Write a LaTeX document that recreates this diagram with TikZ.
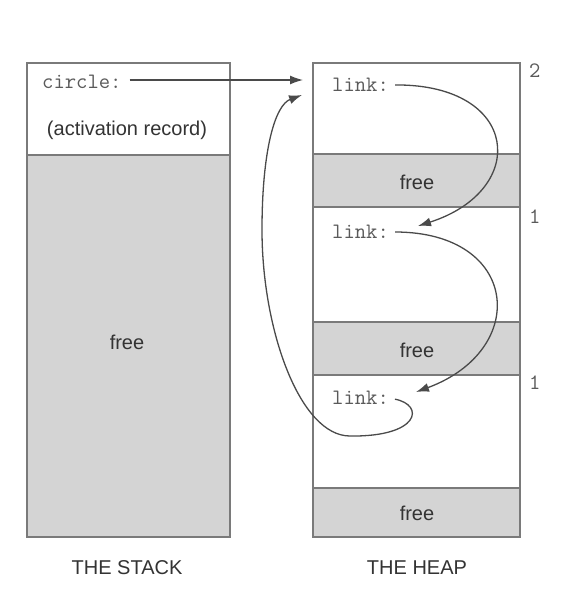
\documentclass[tikz,border=0pt]{standalone}
\usepackage{fontspec}
\setmainfont{Liberation Sans}
\usetikzlibrary{arrows.meta}
\definecolor{boxline}{HTML}{7A7A7A}
\definecolor{freegray}{HTML}{D4D4D4}
\definecolor{ptrline}{HTML}{4A4A4A}
\definecolor{txt}{HTML}{333333}
\definecolor{codetxt}{HTML}{5A5A5A}
\begin{document}
\begin{tikzpicture}[x=1pt, y=-1pt,
        box/.style={draw=boxline, line width=1.8pt},
        freebox/.style={box, fill=freegray},
        lbl/.style={text=txt, font=\fontsize{20}{24}\selectfont, inner sep=0pt},
        code/.style={text=codetxt, font=\ttfamily\fontsize{22}{26}\selectfont, inner sep=0pt, anchor=west},
        ptr/.style={draw=ptrline, line width=1.3pt, -{Latex[length=13pt,width=9pt]}}]
                \useasboundingbox (0,0) rectangle (574,600);
                \fill[white] (0,0) rectangle (574,600);
                \draw[freebox] (27,155) rectangle (230,537);
                \draw[box] (27,63) rectangle (230,155);
                \draw[box] (313,63) rectangle (520,537);
                \draw[freebox] (313,154) rectangle (520,207);
                \draw[freebox] (313,322) rectangle (520,375);
                \draw[freebox] (313,488) rectangle (520,537);
                \node[code] (circlelbl) at (42,82) {circle:};
                \node[lbl] (actrec) at (127,130) {(activation record)};
                \node[lbl] (stackfree) at (127,342) {free};
                \node[lbl] (stackname) at (127,568) {THE STACK};
                \node[lbl] (heapfreea) at (417,182) {free};
                \node[lbl] (heapfreeb) at (417,350) {free};
                \node[lbl] (heapfreec) at (417,513) {free};
                \node[lbl] (heapname) at (417,568) {THE HEAP};
                \node[code] (linka) at (332,85) {link:};
                \node[code] (linkb) at (332,232) {link:};
                \node[code] (linkc) at (332,398) {link:};
                \node[code] (counta) at (529,71) {2};
                \node[code] (countb) at (529,217) {1};
                \node[code] (countc) at (529,383) {1};
                \coordinate (tipa) at (303,80);
                \coordinate (tipb) at (302,95);
                \coordinate (tipc) at (418,226);
                \coordinate (tipd) at (416,392);
                \draw[ptr] ([xshift=8pt]circlelbl.east |- tipa) -- (tipa);
                \draw[ptr, shorten <=6pt] (linka.east) .. controls (520,84) and (530,190) .. (tipc);
                \draw[ptr, shorten <=6pt] (linkb.east) .. controls (520,232) and (530,350) .. (tipd);
                \draw[ptr, shorten <=6pt] (linkc.east) .. controls (425,405) and (420,437) .. (350,436)
                    .. controls (300,436) and (262,330) .. (262,230)
                    .. controls (262,150) and (275,105) .. (tipb);
            \end{tikzpicture}
\end{document}
